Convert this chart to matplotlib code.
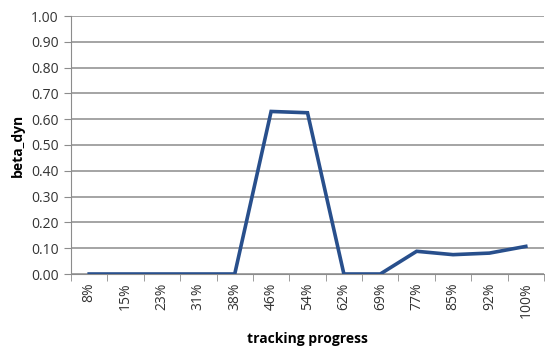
import matplotlib.pyplot as plt
import numpy as np

plt.rcParams['font.family'] = ['Open Sans', 'DejaVu Sans']

progress = ["8%", "15%", "23%", "31%", "38%", "46%", "54%",
            "62%", "69%", "77%", "85%", "92%", "100%"]
beta_dyn = [0.0, 0.0, 0.0, 0.0, 0.0, 0.63, 0.625,
            0.0, 0.0, 0.088, 0.075, 0.081, 0.107]

fig = plt.figure(figsize=(5.45, 3.47), dpi=100)
ax = fig.add_axes([71/545, 73/347, 473/545, 258/347])

x = np.arange(len(progress))
ax.plot(x, beta_dyn, color="#284f8c", linewidth=2.6, solid_joinstyle="miter", zorder=3)

ax.set_xlim(-0.5, len(progress) - 0.5)
ax.set_ylim(0, 1.0)
ax.set_yticks(np.arange(0, 1.01, 0.1))
ax.set_yticklabels([f"{v:.2f}" for v in np.arange(0, 1.01, 0.1)])
ax.yaxis.grid(True, color="#8c8c8c", linewidth=1.1)
ax.set_axisbelow(True)

# category labels at centres, tick marks on the boundaries
ax.set_xticks(x)
ax.set_xticklabels(progress, rotation=90)
ax.set_xticks(np.arange(-0.5, len(progress), 1.0), minor=True)
ax.tick_params(axis="x", which="major", length=0, pad=6, labelsize=10, labelcolor="#333333")
ax.tick_params(axis="x", which="minor", length=5, color="#8c8c8c", direction="out")
ax.tick_params(axis="y", length=5, color="#8c8c8c", labelsize=10, labelcolor="#333333", pad=4)

for side in ("top", "right"):
    ax.spines[side].set_visible(False)
for side in ("left", "bottom"):
    ax.spines[side].set_color("#8c8c8c")

ax.set_xlabel("tracking progress", fontsize=10, fontweight="bold", labelpad=10)
ax.set_ylabel("beta_dyn", fontsize=10, fontweight="bold", labelpad=4)

fig.savefig("out.png", dpi=100)
